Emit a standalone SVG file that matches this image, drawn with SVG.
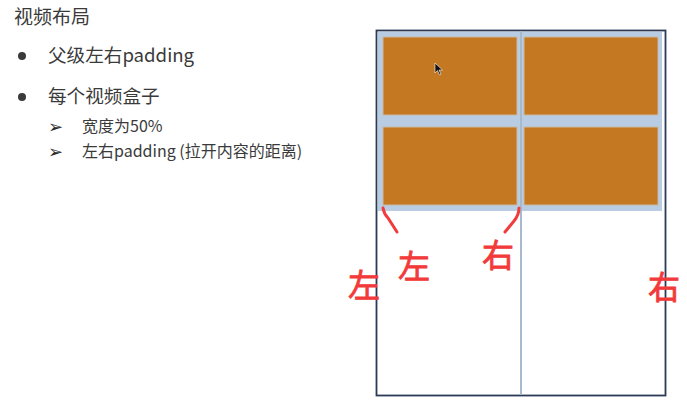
<svg xmlns="http://www.w3.org/2000/svg" width="687" height="415" viewBox="0 0 687 415">
<style>
.t{font-family:"Noto Sans CJK SC","Noto Sans",sans-serif;fill:#3a3a3a}
.h{font-size:19px}
.b{font-size:18.6px}
.s{font-size:16px}
.ar{font-family:"DejaVu Sans",sans-serif;font-size:18px;fill:#2a2a2a}
.vid{fill:#c47822;stroke:#c9b9a4;stroke-width:1}
.hand{fill:none;stroke:#f03c3c;stroke-width:3;stroke-linecap:round}
.ht{font-family:"Noto Sans CJK SC",sans-serif;fill:#f23a3a;stroke:#f23a3a;stroke-width:0.8;font-size:32px}
</style>
<rect width="687" height="415" fill="#ffffff"/>
<g id="text">
<text class="t h" x="14" y="24">视频布局</text>
<circle cx="22" cy="56" r="4" fill="#3a3a3a"/>
<text class="t b" x="48" y="62">父级左右padding</text>
<circle cx="22" cy="97" r="4" fill="#3a3a3a"/>
<text class="t b" x="48" y="103">每个视频盒子</text>
<text class="ar" x="48" y="133">➢</text>
<text class="t s" x="82" y="132">宽度为50%</text>
<text class="ar" x="48" y="158">➢</text>
<text class="t s" x="82" y="157">左右padding (拉开内容的距离)</text>
</g>
<g id="container">
<rect x="376.5" y="30.5" width="289" height="365" fill="#ffffff" stroke="#2b3a55" stroke-width="1.8"/>
<rect x="378" y="32" width="284" height="179" fill="#b8cce3"/>
<line x1="521" y1="31" x2="521" y2="395" stroke="#a7b9cc" stroke-width="2"/>
</g>
<g id="box1"><rect class="vid" x="383" y="37" width="134" height="78"/></g>
<g id="box2"><rect class="vid" x="524" y="37" width="134" height="78"/></g>
<g id="box3"><rect class="vid" x="383" y="127" width="134" height="78"/></g>
<g id="box4"><rect class="vid" x="524" y="127" width="134" height="78"/></g>
<g id="cursor"><path d="M435 63 L435 73 L437.5 70.5 L439.5 75 L441 74.3 L439 70 L442.5 70 Z" fill="#111" stroke="#fff" stroke-width="0.6"/></g>
<g id="annotations">
<path class="hand" d="M383 208 Q384 214 388 218 L397 232"/>
<path class="hand" d="M519 208 Q519 215 514 221 L505 232"/>
<text class="ht" x="348" y="297">左</text>
<text class="ht" x="398" y="278">左</text>
<text class="ht" x="482" y="267">右</text>
<text class="ht" x="648" y="299">右</text>
</g>
</svg>
